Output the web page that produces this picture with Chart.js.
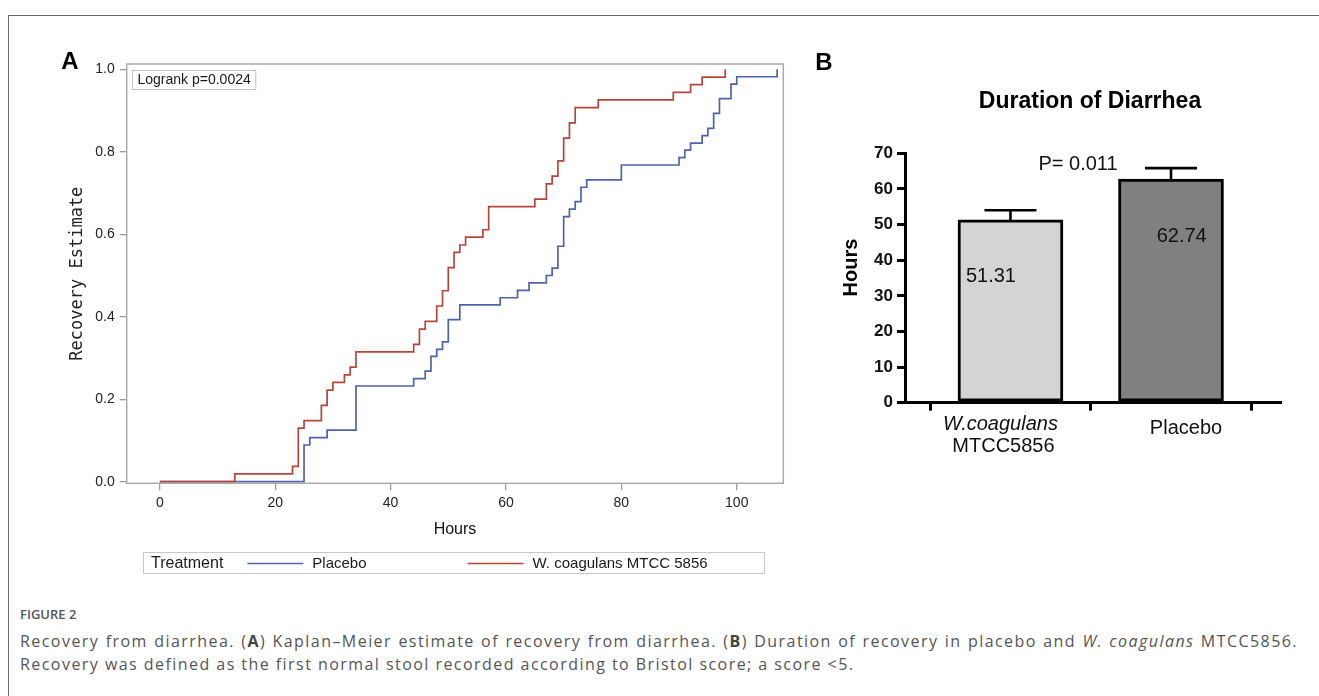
<!DOCTYPE html>
<html>
<head>
<meta charset="utf-8">
<script src="https://cdn.jsdelivr.net/npm/chart.js@4.4.1/dist/chart.umd.min.js"></script>
<style>
html,body{margin:0;padding:0;background:#fff;width:1319px;height:696px;overflow:hidden;}
#frame{position:absolute;left:8px;top:15px;width:1330px;height:700px;border-left:1.5px solid #6b6b6b;border-top:1.5px solid #6b6b6b;}
#cA{position:absolute;left:0;top:0;}
#cB{position:absolute;left:800px;top:0;}
.cap{position:absolute;left:20px;width:1278px;font-family:'Open Sans',sans-serif;color:#555;white-space:nowrap;}
#fig{top:604px;line-height:20px;font-size:13px;font-weight:600;}
#l1{top:630px;line-height:22px;font-size:16px;letter-spacing:1.45px;text-align:justify;text-align-last:justify;white-space:normal;}
#l2{top:653px;line-height:22px;font-size:16px;letter-spacing:1.45px;}
.cap b{font-weight:700;color:#444;}
</style>
</head>
<body>
<div id="frame"></div>
<canvas id="cA" width="800" height="600"></canvas>
<canvas id="cB" width="519" height="480"></canvas>
<div class="cap" id="fig">FIGURE 2</div>
<div class="cap" id="l1">Recovery from diarrhea. (<b>A</b>) Kaplan–Meier estimate of recovery from diarrhea. (<b>B</b>) Duration of recovery in placebo and <i>W. coagulans</i> MTCC5856.</div>
<div class="cap" id="l2">Recovery was defined as the first normal stool recorded according to Bristol score; a score &lt;5.</div>
<script>
// ---------- Panel A data (Kaplan–Meier) ----------
const seriesNames = ['Placebo', 'W. coagulans MTCC 5856'];
const hoursPlacebo = [0, 25, 26, 29, 34, 44, 46, 47, 48, 49, 50, 52, 59, 62, 64, 67, 68, 69, 70, 71, 72, 73, 74, 80, 90, 91, 92, 94, 95, 96, 97, 99, 100, 107];
const recPlacebo   = [0, 0.089, 0.107, 0.125, 0.232, 0.250, 0.268, 0.304, 0.321, 0.339, 0.393, 0.429, 0.446, 0.464, 0.482, 0.500, 0.518, 0.571, 0.643, 0.661, 0.679, 0.714, 0.732, 0.768, 0.786, 0.804, 0.821, 0.839, 0.857, 0.893, 0.929, 0.964, 0.982, 1.0];
const hoursWc = [0, 13, 23, 24, 25, 28, 29, 30, 32, 33, 34, 44, 45, 46, 48, 49, 50, 51, 52, 53, 56, 57, 65, 67, 68, 69, 70, 71, 72, 76, 89, 92, 94, 98];
const recWc   = [0, 0.019, 0.037, 0.130, 0.148, 0.185, 0.222, 0.241, 0.259, 0.278, 0.315, 0.333, 0.370, 0.389, 0.426, 0.463, 0.519, 0.556, 0.574, 0.593, 0.611, 0.667, 0.685, 0.722, 0.741, 0.778, 0.833, 0.870, 0.907, 0.926, 0.944, 0.963, 0.981, 1.0];
const xTicksA = [0, 20, 40, 60, 80, 100];
const yTicksA = [0, 0.2, 0.4, 0.6, 0.8, 1.0];
const legendTitle = 'Treatment';
const logrankText = 'Logrank p=0.0024';
const panelA = 'A';

// ---------- Panel B data (bar chart) ----------
const categoriesB = [['W.coagulans', 'MTCC5856'], ['Placebo']];
const meanHours = [51.31, 62.74];
const semHours = [2.7, 3.1];
const yTicksB = [0, 10, 20, 30, 40, 50, 60, 70];
const titleB = 'Duration of Diarrhea';
const yTitleB = 'Hours';
const pText = 'P= 0.011';
const panelB = 'B';

Chart.defaults.font.family = "'Liberation Sans', Arial, sans-serif";
Chart.defaults.animation = false;

const colBlue = '#4f63ad', colRed = '#b5463c';

const decorA = {
  id: 'decorA',
  afterDraw(chart) {
    const {ctx, chartArea: a} = chart;
    ctx.save();
    ctx.strokeStyle = '#ababab'; ctx.lineWidth = 1.5;
    ctx.strokeRect(a.left, a.top, a.right - a.left, a.bottom - a.top);
    ctx.fillStyle = '#000'; ctx.font = "bold 24px 'Liberation Sans'";
    ctx.textAlign = 'center'; ctx.textBaseline = 'alphabetic';
    ctx.fillText(panelA, 70, 69);
    ctx.font = "14px 'Liberation Sans'"; ctx.textAlign = 'left'; ctx.textBaseline = 'middle';
    const lw = ctx.measureText(logrankText).width;
    ctx.strokeStyle = '#c4c4c4'; ctx.lineWidth = 1;
    ctx.strokeRect(132.5, 70.5, lw + 10, 19);
    ctx.fillStyle = '#1a1a1a';
    ctx.fillText(logrankText, 137.5, 80.5);
    ctx.strokeStyle = '#c8c8c8'; ctx.lineWidth = 1;
    ctx.strokeRect(143.5, 552.5, 621, 21);
    ctx.fillStyle = '#1a1a1a'; ctx.font = "16px 'Liberation Sans'";
    ctx.fillText(legendTitle, 151, 563.5);
    let x = 151 + ctx.measureText(legendTitle).width + 24;
    ctx.font = "15px 'Liberation Sans'";
    chart.data.datasets.forEach(ds => {
      ctx.strokeStyle = ds.borderColor; ctx.lineWidth = 1.6;
      ctx.beginPath(); ctx.moveTo(x, 563.5); ctx.lineTo(x + 56, 563.5); ctx.stroke();
      ctx.fillStyle = '#1a1a1a';
      ctx.fillText(ds.label, x + 65, 563.5);
      x = x + 65 + ctx.measureText(ds.label).width + 101;
    });
    ctx.restore();
  }
};

new Chart(document.getElementById('cA'), {
  type: 'line',
  data: {
    datasets: [
      {label: seriesNames[0], data: hoursPlacebo.map((h, i) => ({x: h, y: recPlacebo[i]})),
       borderColor: colBlue, borderWidth: 1.7, stepped: true, pointRadius: 0, fill: false, order: 1},
      {label: seriesNames[1], data: hoursWc.map((h, i) => ({x: h, y: recWc[i]})),
       borderColor: colRed, borderWidth: 1.7, stepped: true, pointRadius: 0, fill: false, order: 0}
    ]
  },
  options: {
    responsive: false, devicePixelRatio: 1,
    layout: {padding: {left: 0, top: 64, right: 16.7, bottom: 56.7}},
    plugins: {legend: {display: false}, tooltip: {enabled: false}},
    scales: {
      x: {
        type: 'linear', min: -5.74, max: 108.07,
        afterBuildTicks: s => { s.ticks = xTicksA.map(v => ({value: v})); },
        afterFit: s => { s.height = 60; },
        ticks: {font: {size: 14}, color: '#222', padding: 4, maxRotation: 0, autoSkip: false, callback: v => String(v)},
        grid: {drawOnChartArea: false, drawTicks: true, tickLength: 7, color: '#9c9c9c', lineWidth: 1.3},
        border: {display: false},
        title: {display: true, text: 'Hours', font: {size: 16}, color: '#111', padding: {top: 0, bottom: 3.7}}
      },
      y: {
        type: 'linear', min: -0.0039, max: 1.0129,
        afterBuildTicks: s => { s.ticks = yTicksA.map(v => ({value: v})); },
        afterFit: s => { s.width = 126.7; },
        ticks: {font: {size: 14}, color: '#222', padding: 5, autoSkip: false, callback: v => v.toFixed(1)},
        grid: {drawOnChartArea: false, drawTicks: true, tickLength: 7, color: '#9c9c9c', lineWidth: 1.3},
        border: {display: false},
        title: {display: true, text: 'Recovery Estimate', font: {family: "'DejaVu Sans Mono', monospace", size: 17}, color: '#222', padding: {top: 67.8, bottom: 0}}
      }
    }
  },
  plugins: [decorA]
});

const decorB = {
  id: 'decorB',
  afterDatasetsDraw(chart) {
    const {ctx} = chart;
    const xs = chart.scales.x, ys = chart.scales.y;
    ctx.save();
    ctx.strokeStyle = '#000'; ctx.lineWidth = 2.6;
    meanHours.forEach((m, i) => {
      const px = xs.getPixelForValue(i);
      const t = ys.getPixelForValue(m), c = ys.getPixelForValue(m + semHours[i]);
      ctx.beginPath(); ctx.moveTo(px, t); ctx.lineTo(px, c);
      ctx.moveTo(px - 26, c); ctx.lineTo(px + 26, c); ctx.stroke();
    });
    ctx.fillStyle = '#111'; ctx.font = "20px 'Liberation Sans'";
    ctx.textAlign = 'center'; ctx.textBaseline = 'middle';
    const dx = [-19.5, 10.7];
    meanHours.forEach((m, i) => {
      ctx.fillText(m.toFixed(2), xs.getPixelForValue(i) + dx[i], ys.getPixelForValue(m) + 57);
    });
    const base = ys.getPixelForValue(0);
    const lx = [-10, 15];
    categoriesB.forEach((lines, i) => {
      const px = xs.getPixelForValue(i) + lx[i];
      lines.forEach((txt, j) => {
        ctx.font = (i === 0 && j === 0 ? 'italic ' : '') + "20px 'Liberation Sans'";
        ctx.textBaseline = 'alphabetic';
        ctx.fillText(txt, px + (i === 0 && j === 1 ? 3 : 0), base + (i === 0 ? 27 + j * 22.5 : 31));
      });
    });
    ctx.font = "bold 23px 'Liberation Sans'"; ctx.fillStyle = '#000';
    ctx.fillText(titleB, 290, 108);
    ctx.font = "20px 'Liberation Sans'"; ctx.fillStyle = '#111';
    ctx.fillText(pText, 278, 170);
    ctx.font = "bold 24px 'Liberation Sans'"; ctx.fillStyle = '#000';
    ctx.fillText(panelB, 24, 69.5);
    ctx.translate(51.7, 267.5); ctx.rotate(-Math.PI / 2);
    ctx.font = "bold 20px 'Liberation Sans'"; ctx.textBaseline = 'middle';
    ctx.fillText(yTitleB, 0, 0);
    ctx.restore();
  }
};

new Chart(document.getElementById('cB'), {
  type: 'bar',
  data: {
    datasets: [{
      data: meanHours.map((v, i) => ({x: i, y: v})),
      backgroundColor: ['#d4d4d4', '#808080'],
      borderColor: '#000', borderWidth: 3, borderSkipped: false,
      barThickness: 105
    }]
  },
  options: {
    responsive: false, devicePixelRatio: 1,
    layout: {padding: {left: 0, top: 153.3, right: 39, bottom: 37.3}},
    plugins: {legend: {display: false}, tooltip: {enabled: false}},
    scales: {
      x: {
        type: 'linear', min: -0.657, max: 1.679, offset: false,
        afterBuildTicks: s => { s.ticks = categoriesB.map((c, i) => ({value: i})); },
        afterFit: s => { s.height = 40; },
        ticks: {display: false},
        grid: {drawOnChartArea: false, drawTicks: true, tickLength: 8, color: '#000', lineWidth: 3},
        border: {display: true, color: '#000', width: 3}
      },
      y: {
        type: 'linear', min: 0, max: 70,
        afterBuildTicks: s => { s.ticks = yTicksB.map(v => ({value: v})); },
        afterFit: s => { s.width = 105; },
        ticks: {font: {size: 17, weight: 'bold'}, color: '#111', padding: 4, autoSkip: false},
        grid: {drawOnChartArea: false, drawTicks: true, tickLength: 8, color: '#000', lineWidth: 3},
        border: {display: true, color: '#000', width: 3}
      }
    }
  },
  plugins: [decorB]
});
</script>
</body>
</html>
